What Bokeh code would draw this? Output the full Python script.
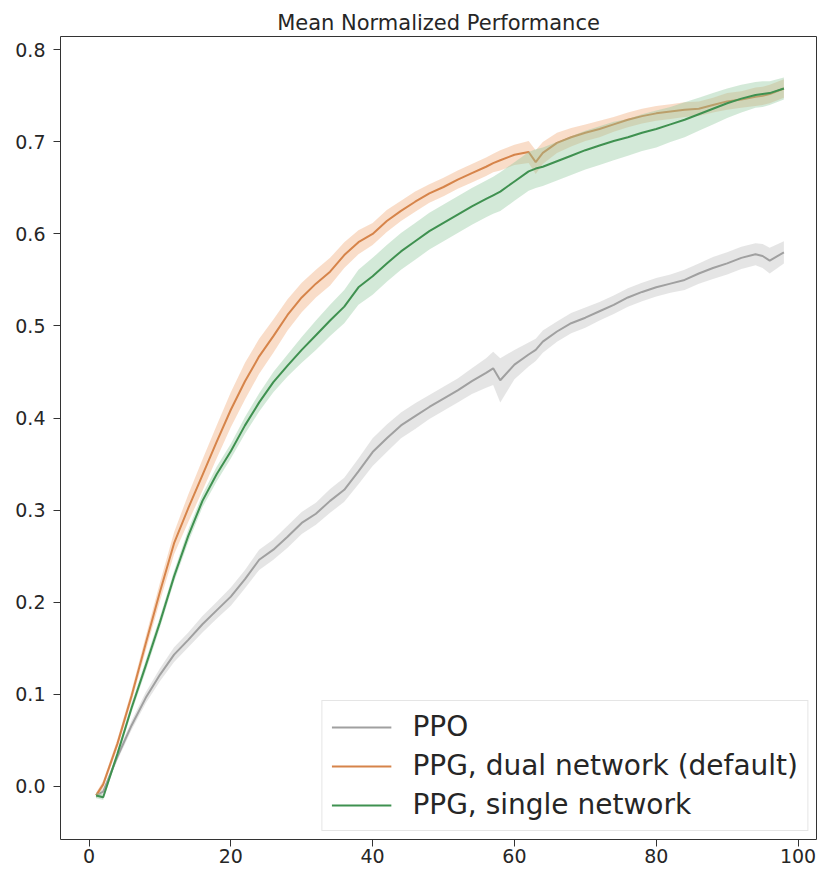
from bokeh.plotting import figure
from bokeh.models import Range1d, FixedTicker, PrintfTickFormatter
from bokeh.embed import file_html
from bokeh.resources import INLINE

# ---- data ----
steps = [1, 2, 4, 6, 8, 10, 12, 14, 16, 18,
         20, 22, 24, 26, 28, 30, 32, 34, 36, 38,
         40, 42, 44, 46, 48, 50, 52, 54, 56, 57,
         58, 60, 62, 63, 64, 66, 68, 70, 72, 74,
         76, 78, 80, 82, 84, 86, 88, 90, 92, 94,
         95, 96, 98]

ppo_mean = [-0.010, -0.006, 0.032, 0.066, 0.096, 0.121, 0.143, 0.159, 0.176, 0.191,
            0.206, 0.225, 0.246, 0.257, 0.271, 0.286, 0.296, 0.310, 0.322, 0.342,
            0.363, 0.378, 0.392, 0.402, 0.412, 0.421, 0.430, 0.440, 0.449, 0.454,
            0.441, 0.458, 0.469, 0.474, 0.483, 0.494, 0.503, 0.509, 0.516, 0.523,
            0.531, 0.537, 0.542, 0.546, 0.550, 0.557, 0.563, 0.568, 0.574, 0.578,
            0.576, 0.571, 0.580]
ppo_err = [0.003, 0.003, 0.004, 0.005, 0.006, 0.007, 0.008, 0.008, 0.009, 0.009,
           0.010, 0.010, 0.011, 0.011, 0.012, 0.012, 0.012, 0.013, 0.013, 0.014,
           0.015, 0.015, 0.014, 0.014, 0.013, 0.013, 0.013, 0.014, 0.016, 0.018,
           0.024, 0.016, 0.013, 0.012, 0.012, 0.011, 0.011, 0.011, 0.010, 0.010,
           0.010, 0.010, 0.010, 0.010, 0.011, 0.011, 0.012, 0.012, 0.012, 0.012,
           0.013, 0.014, 0.012]

dual_mean = [-0.010, 0.002, 0.046, 0.098, 0.155, 0.211, 0.264, 0.302, 0.338, 0.374,
             0.409, 0.440, 0.467, 0.489, 0.512, 0.531, 0.546, 0.559, 0.577, 0.591,
             0.600, 0.614, 0.625, 0.635, 0.644, 0.651, 0.659, 0.666, 0.673, 0.677,
             0.680, 0.686, 0.689, 0.678, 0.688, 0.699, 0.705, 0.710, 0.714, 0.719,
             0.724, 0.728, 0.731, 0.733, 0.735, 0.736, 0.740, 0.744, 0.746, 0.749,
             0.750, 0.752, 0.758]
dual_err = [0.003, 0.004, 0.005, 0.006, 0.008, 0.010, 0.012, 0.015, 0.017, 0.018,
            0.019, 0.020, 0.019, 0.018, 0.017, 0.016, 0.015, 0.015, 0.014, 0.013,
            0.012, 0.012, 0.011, 0.011, 0.010, 0.010, 0.010, 0.010, 0.010, 0.010,
            0.011, 0.011, 0.012, 0.013, 0.012, 0.011, 0.010, 0.009, 0.009, 0.008,
            0.008, 0.008, 0.008, 0.008, 0.008, 0.008, 0.008, 0.009, 0.009, 0.010,
            0.010, 0.010, 0.010]

single_mean = [-0.010, -0.012, 0.035, 0.085, 0.131, 0.178, 0.228, 0.272, 0.310, 0.339,
               0.364, 0.392, 0.417, 0.439, 0.457, 0.474, 0.490, 0.506, 0.521, 0.542,
               0.554, 0.568, 0.581, 0.592, 0.603, 0.612, 0.621, 0.630, 0.638, 0.642,
               0.646, 0.657, 0.668, 0.671, 0.673, 0.679, 0.685, 0.691, 0.696, 0.701,
               0.705, 0.710, 0.714, 0.719, 0.724, 0.730, 0.736, 0.742, 0.747, 0.751,
               0.752, 0.753, 0.758]
single_err = [0.003, 0.003, 0.004, 0.005, 0.006, 0.006, 0.006, 0.007, 0.007, 0.008,
              0.008, 0.009, 0.010, 0.011, 0.012, 0.014, 0.016, 0.017, 0.018, 0.019,
              0.020, 0.020, 0.020, 0.020, 0.020, 0.020, 0.020, 0.020, 0.020, 0.020,
              0.021, 0.021, 0.021, 0.021, 0.021, 0.021, 0.021, 0.021, 0.021, 0.021,
              0.020, 0.020, 0.020, 0.019, 0.019, 0.018, 0.017, 0.016, 0.015, 0.014,
              0.014, 0.013, 0.012]

labels = ["PPO", "PPG, dual network (default)", "PPG, single network"]
x_ticks = [0, 20, 40, 60, 80, 100]
y_ticks = [0.0, 0.1, 0.2, 0.3, 0.4, 0.5, 0.6, 0.7, 0.8]

series = [
    (labels[0], ppo_mean, ppo_err, "#a0a0a0", "#cccccc", 0.5),
    (labels[1], dual_mean, dual_err, "#d6844a", "#f2b388", 0.45),
    (labels[2], single_mean, single_err, "#3f9150", "#90c89e", 0.4),
]

FONT = "DejaVu Sans"
TXT = "#262626"

p = figure(width=819, height=870, output_backend="svg", toolbar_location=None,
           x_range=Range1d(-4.02, 102.6), y_range=Range1d(-0.0579, 0.8145),
           min_border_left=60, min_border_right=3, min_border_top=36,
           min_border_bottom=31, title="Mean Normalized Performance")
p.background_fill_color = "white"
p.border_fill_color = "white"
p.outline_line_color = "#333333"
p.outline_line_width = 1
p.xgrid.visible = False
p.ygrid.visible = False

p.title.align = "center"
p.title.text_font = FONT
p.title.text_font_size = "21px"
p.title.text_font_style = "normal"
p.title.text_color = TXT
p.title.standoff = 4

for name, mean, err, lc, fc, fa in series:
    lo = [m - e for m, e in zip(mean, err)]
    hi = [m + e for m, e in zip(mean, err)]
    p.varea(x=steps, y1=lo, y2=hi, fill_color=fc, fill_alpha=fa)
    p.line(x=steps, y=mean, line_color=lc, line_width=2, legend_label=name)

for ax in (p.xaxis[0], p.yaxis[0]):
    ax.axis_line_color = None
    ax.major_tick_line_color = "#333333"
    ax.major_tick_in = 0
    ax.major_tick_out = 7
    ax.minor_tick_line_color = None
    ax.major_label_text_font = FONT
    ax.major_label_text_font_size = "19px"
    ax.major_label_text_color = TXT

p.xaxis[0].ticker = FixedTicker(ticks=x_ticks)
p.yaxis[0].ticker = FixedTicker(ticks=y_ticks)
p.yaxis[0].formatter = PrintfTickFormatter(format="%.1f")
p.xaxis[0].major_label_standoff = 2
p.yaxis[0].major_label_standoff = 8

lg = p.legend[0]
lg.location = "bottom_right"
lg.margin = 8
lg.padding = 9
lg.spacing = 6
lg.glyph_width = 60
lg.glyph_height = 32
lg.label_height = 32
lg.label_standoff = 21
lg.label_text_font = FONT
lg.label_text_font_size = "28px"
lg.label_text_color = TXT
lg.border_line_color = "#cccccc"
lg.border_line_width = 1
lg.background_fill_alpha = 0.85

open("out.html", "w").write(file_html(p, INLINE))
